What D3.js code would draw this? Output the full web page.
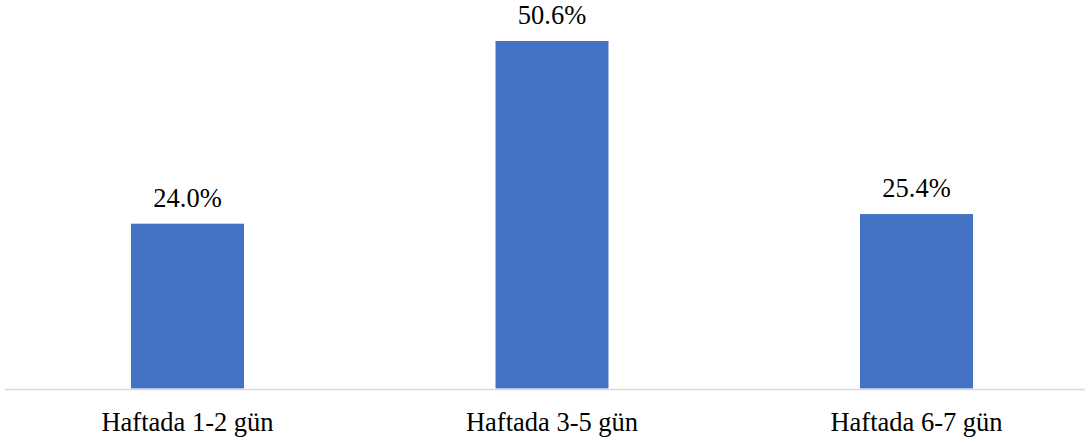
<!DOCTYPE html>
<html><head><meta charset="utf-8">
<script src="https://cdn.jsdelivr.net/npm/d3@7"></script>
<style>body{margin:0;background:#fff}svg{display:block}</style>
</head><body><svg id="c" width="1092" height="443"></svg>
<script>
const categories = ["Haftada 1-2 gün", "Haftada 3-5 gün", "Haftada 6-7 gün"];
const values = [24.0, 50.6, 25.4];

const svg = d3.select("#c");
const base = 388.5;
const x = d3.scaleBand().domain(categories).range([5.25, 1098.75]).paddingInner(0.69).paddingOuter(0.345);
const y = d3.scaleLinear().domain([0, 50.6]).range([base, 41]);
const font = "'Liberation Serif', 'Times New Roman', Times, serif";

svg.selectAll("rect.bar").data(values).enter().append("rect")
  .attr("x", (d,i) => x(categories[i]))
  .attr("width", x.bandwidth())
  .attr("y", d => y(d))
  .attr("height", d => base - y(d))
  .attr("fill", "#4472C4");

svg.append("line").attr("x1", 5).attr("x2", 1085).attr("y1", 389.5).attr("y2", 389.5)
  .attr("stroke", "#d9d9d9").attr("stroke-width", 1.5);

svg.selectAll("text.val").data(values).enter().append("text")
  .attr("x", (d,i) => x(categories[i]) + x.bandwidth()/2)
  .attr("y", d => y(d) - 17)
  .attr("text-anchor", "middle")
  .attr("font-family", font)
  .attr("font-size", 26.5)
  .attr("fill", "#000")
  .text(d => d.toFixed(1) + "%");

svg.selectAll("text.cat").data(categories).enter().append("text")
  .attr("x", d => x(d) + x.bandwidth()/2)
  .attr("y", 431)
  .attr("text-anchor", "middle")
  .attr("font-family", font)
  .attr("font-size", 26.5)
  .attr("fill", "#000")
  .text(d => d);
</script></body></html>
